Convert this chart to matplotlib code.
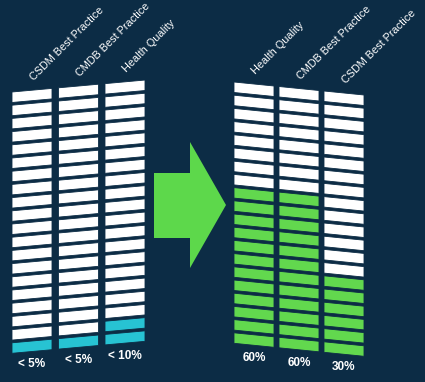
import matplotlib.pyplot as plt
from matplotlib.patches import Polygon

# before / after data
left_categories = ["CSDM Best Practice", "CMDB Best Practice", "Health Quality"]
left_values = [5, 5, 10]
left_labels = ["< 5%", "< 5%", "< 10%"]

right_categories = ["Health Quality", "CMDB Best Practice", "CSDM Best Practice"]
right_values = [60, 60, 30]
right_labels = ["60%", "60%", "30%"]

BG = '#0c2c45'
TEAL = '#27c3d3'
GREEN = '#62d84e'
N_SEG = 20
W = 40
PITCH = 13.2
SEG_H = 10.5

plt.rcParams['font.family'] = ['Liberation Sans', 'DejaVu Sans']

fig = plt.figure(figsize=(4.25, 3.82), dpi=100, facecolor=BG)
ax = fig.add_axes([0, 0, 1, 1])
ax.set_xlim(0, 425)
ax.set_ylim(382, 0)
ax.set_facecolor(BG)
ax.axis('off')


def draw_column(x0, y0, slope, value, color, name, label):
    n_fill = round(value / 100 * N_SEG)
    for i in range(N_SEG):
        top = y0 + i * PITCH
        pts = [(x0, top), (x0 + W, top + slope * W),
               (x0 + W, top + slope * W + SEG_H), (x0, top + SEG_H)]
        c = color if i >= N_SEG - n_fill else 'white'
        ax.add_patch(Polygon(pts, closed=True, facecolor=c,
                             edgecolor=BG, linewidth=0.6))
    cx = x0 + W / 2
    ytop = y0 + slope * W / 2
    ax.text(cx + 2, ytop - 9, name, rotation=45, rotation_mode='anchor',
            ha='left', va='baseline', color='white', fontsize=7.8)
    ybot = y0 + N_SEG * PITCH + slope * W / 2
    ax.text(cx, ybot + 10, label, ha='center', va='center', color='white',
            fontsize=8.5, fontweight='bold')


for k in range(3):
    x0 = 12 + k * 46.5
    slope = -0.09
    draw_column(x0, 92 + slope * (x0 - 12), slope, left_values[k], TEAL,
                left_categories[k], left_labels[k])

for k in range(3):
    x0 = 234 + k * 45
    slope = 0.1
    draw_column(x0, 82 + slope * (x0 - 234), slope, right_values[k], GREEN,
                right_categories[k], right_labels[k])

# big arrow in the middle
arrow = [(154, 173), (190, 173), (190, 142), (226, 205),
         (190, 268), (190, 238), (154, 238)]
ax.add_patch(Polygon(arrow, closed=True, facecolor='#5dd84b', edgecolor='none'))

fig.savefig('out.png', dpi=100, facecolor=BG)
